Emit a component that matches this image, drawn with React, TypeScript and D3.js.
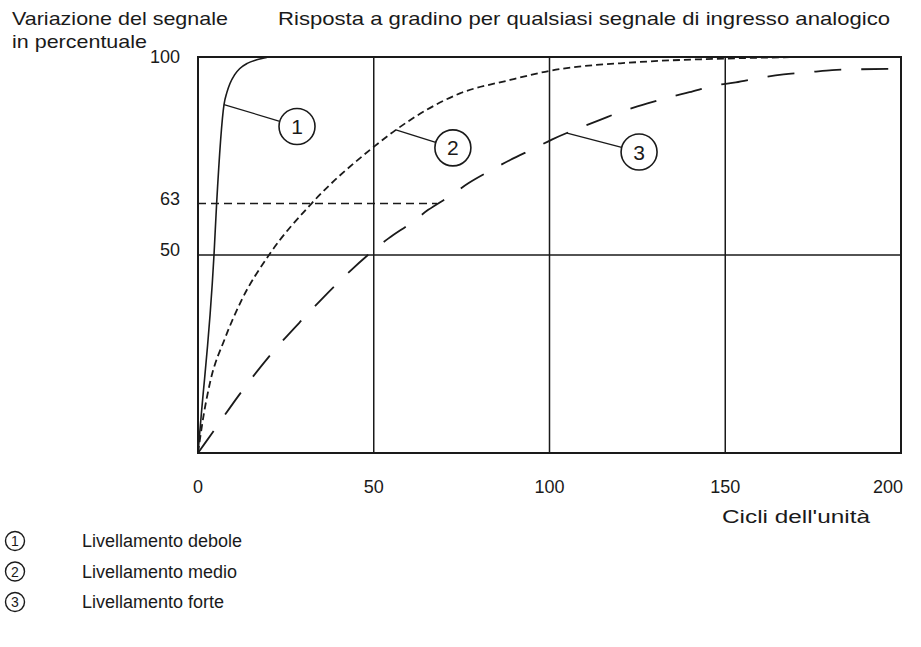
import React from "react";
import * as d3 from "d3";

const W = 921;
const H = 647;

const xTicks = [0, 50, 100, 150, 200];
const yTickLabels = [100, 63, 50];

// Curve 1: Livellamento debole
const weakX = [0, 0.8, 4.55, 5.3, 7.4, 8.2, 9.1, 10.4, 11.9, 14, 16.7, 19.5, 20];
const weakY = [0, 8.3, 50, 63, 88, 91, 93.3, 95.5, 97.1, 98.4, 99.3, 99.9, 100];

// Curve 2: Livellamento medio
const medX = [0, 1.5, 3.4, 7.7, 12.4, 20.2, 32.3, 50, 56.3, 74.5, 88.8, 100, 125, 150, 172];
const medY = [0, 9, 17.7, 29, 38.6, 50, 63, 77.3, 81.6, 90.8, 94.2, 96.5, 98.7, 99.6, 100];

// Curve 3: Livellamento forte
const strongX = [0, 4, 12.4, 21, 30, 39.7, 49.4, 54.2, 60.8, 65.5, 71.7, 76.9, 83.6, 88.8, 95.6, 100.8, 114.4, 121, 126.5, 133.8, 139.8, 147.1, 153, 160.8, 166.6, 174.3, 180.4, 188, 200];
const strongY = [0, 5, 15.5, 25.2, 34, 42.9, 50.8, 54.2, 58.2, 61.4, 64.9, 68.1, 71.5, 74, 76.9, 79.2, 84.1, 86.4, 87.9, 89.8, 91.1, 92.8, 93.6, 94.9, 95.6, 96.2, 96.7, 96.9, 97];

const legendLabels = ["Livellamento debole", "Livellamento medio", "Livellamento forte"];
const calloutNumbers = ["1", "2", "3"];
// anchor point on each curve for the numbered callout (data coords)
const calloutAnchorX = [7.4, 56.3, 105];
const calloutAnchorY = [88, 81.6, 80.8];

const FONT = "'Liberation Sans', Arial, Helvetica, sans-serif";
const INK = "#1a1a1a";

export default function App() {
  const x = d3.scaleLinear().domain([0, 200]).range([198, 901]);
  const y = d3.scaleLinear().domain([0, 100]).range([453, 57]);

  const line = d3
    .line<[number, number]>()
    .x((d) => x(d[0]))
    .y((d) => y(d[1]))
    .curve(d3.curveMonotoneX);

  const weak = weakX.map((v, i) => [v, weakY[i]] as [number, number]);
  const med = medX.map((v, i) => [v, medY[i]] as [number, number]);
  const strong = strongX.map((v, i) => [v, strongY[i]] as [number, number]);

  const calloutOffsets = [
    [73, 22],
    [57, 18],
    [72, 19],
  ];

  return (
    <svg width={W} height={H} style={{ position: "absolute", left: 0, top: 0, background: "#fff" }}>
      <rect x={0} y={0} width={W} height={H} fill="#fff" />
      {/* headers */}
      <text x={12} y={25} fontFamily={FONT} fontSize={19} fill={INK} textLength={216} lengthAdjust="spacingAndGlyphs">
        Variazione del segnale
      </text>
      <text x={12} y={48} fontFamily={FONT} fontSize={19} fill={INK} textLength={135} lengthAdjust="spacingAndGlyphs">
        in percentuale
      </text>
      <text x={278} y={25} fontFamily={FONT} fontSize={19} fill={INK} textLength={612} lengthAdjust="spacingAndGlyphs">
        Risposta a gradino per qualsiasi segnale di ingresso analogico
      </text>

      {/* grid */}
      {xTicks.slice(1, -1).map((t) => (
        <line key={"gx" + t} x1={x(t)} x2={x(t)} y1={y(0)} y2={y(100)} stroke={INK} strokeWidth={1.5} />
      ))}
      <line x1={x(0)} x2={x(200)} y1={y(50)} y2={y(50)} stroke={INK} strokeWidth={1.5} />
      <line x1={x(0)} x2={x(68)} y1={y(63)} y2={y(63)} stroke={INK} strokeWidth={1.5} strokeDasharray="8 5" />
      <rect x={x(0)} y={y(100)} width={x(200) - x(0)} height={y(0) - y(100)} fill="none" stroke={INK} strokeWidth={2} />

      {/* curves */}
      <path d={line(weak) || ""} fill="none" stroke={INK} strokeWidth={1.6} />
      <path d={line(med) || ""} fill="none" stroke={INK} strokeWidth={1.8} strokeDasharray="7 4" />
      <path d={line(strong) || ""} fill="none" stroke={INK} strokeWidth={1.8} strokeDasharray="27 20" />

      {/* callouts */}
      {calloutNumbers.map((n, i) => {
        const ax = x(calloutAnchorX[i]);
        const ay = y(calloutAnchorY[i]);
        const cx = ax + calloutOffsets[i][0];
        const cy = ay + calloutOffsets[i][1];
        const ang = Math.atan2(cy - ay, cx - ax);
        const r = 18;
        return (
          <g key={"c" + n}>
            <line x1={ax} y1={ay} x2={cx - r * Math.cos(ang)} y2={cy - r * Math.sin(ang)} stroke={INK} strokeWidth={1.3} />
            <circle cx={cx} cy={cy} r={r} fill="#fff" stroke={INK} strokeWidth={1.6} />
            <text x={cx} y={cy + 7.5} textAnchor="middle" fontFamily={FONT} fontSize={21} fill={INK}>
              {n}
            </text>
          </g>
        );
      })}

      {/* y tick labels */}
      {yTickLabels.map((t) => (
        <text key={"yt" + t} x={180} y={t === 100 ? y(t) + 6 : y(t) + 1} textAnchor="end" fontFamily={FONT} fontSize={18} fill={INK}>
          {t}
        </text>
      ))}

      {/* x tick labels */}
      {xTicks.map((t, i) => (
        <text
          key={"xt" + t}
          x={i === xTicks.length - 1 ? x(t) + 2 : x(t)}
          y={493}
          textAnchor={i === xTicks.length - 1 ? "end" : "middle"}
          fontFamily={FONT}
          fontSize={18}
          fill={INK}
        >
          {t}
        </text>
      ))}
      <text x={722} y={523} fontFamily={FONT} fontSize={18} fill={INK} textLength={148} lengthAdjust="spacingAndGlyphs">
        Cicli dell'unità
      </text>

      {/* legend */}
      {legendLabels.map((l, i) => (
        <g key={"lg" + i}>
          <circle cx={15} cy={541 + i * 30.5} r={9.5} fill="none" stroke={INK} strokeWidth={1.4} />
          <text x={15} y={541 + i * 30.5 + 5} textAnchor="middle" fontFamily={FONT} fontSize={14} fill={INK}>
            {calloutNumbers[i]}
          </text>
          <text x={82} y={547 + i * 30.5} fontFamily={FONT} fontSize={18} fill={INK}>
            {l}
          </text>
        </g>
      ))}
    </svg>
  );
}
